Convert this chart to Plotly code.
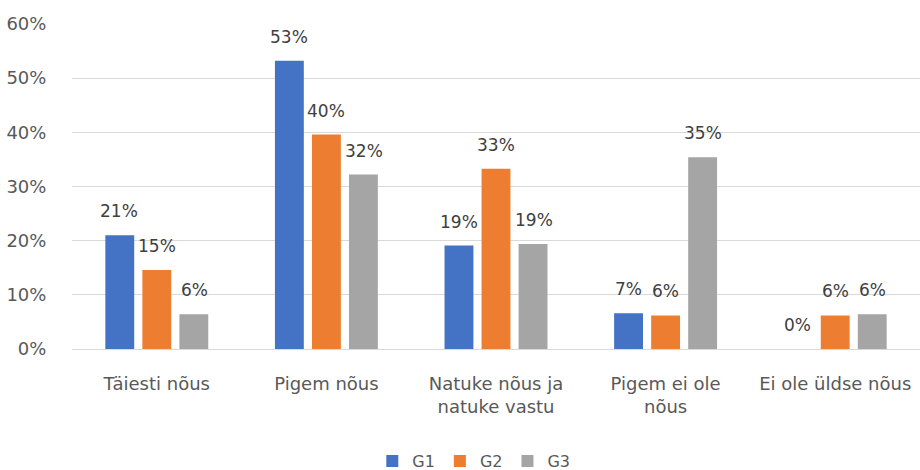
import plotly.graph_objects as go

categories = ["Täiesti nõus", "Pigem nõus", "Natuke nõus ja<br>natuke vastu", "Pigem ei ole<br>nõus", "Ei ole üldse nõus"]
series_names = ["G1", "G2", "G3"]
g1 = [0.21, 0.532, 0.191, 0.066, 0.0]
g2 = [0.146, 0.396, 0.333, 0.062, 0.062]
g3 = [0.064, 0.322, 0.194, 0.354, 0.064]
colors = ["#4472C4", "#ED7D31", "#A5A5A5"]
y_ticks = [0, 0.1, 0.2, 0.3, 0.4, 0.5, 0.6]
y_tick_labels = ["0%", "10%", "20%", "30%", "40%", "50%", "60%"]

FONT = "DejaVu Sans"
all_series = [g1, g2, g3]

fig = go.Figure()
for name, vals, col in zip(series_names, all_series, colors):
    fig.add_trace(go.Bar(
        x=categories, y=vals, name=name,
        marker=dict(color=col, line=dict(width=0)),
        hoverinfo="skip",
    ))

offsets = [-37.5, 0, 37.5]
for vals, off in zip(all_series, offsets):
    for cat, v in zip(categories, vals):
        fig.add_annotation(
            x=cat, y=v, text=f"{round(v*100):.0f}%",
            xshift=off, yshift=24, yanchor="middle", xanchor="center",
            showarrow=False,
            font=dict(family=FONT, size=17, color="#404040"),
        )

fig.update_layout(
    width=920, height=470,
    margin=dict(l=72, r=0, t=24, b=121),
    paper_bgcolor="white", plot_bgcolor="white",
    barmode="group", bargap=0.345, bargroupgap=0.22,
    font=dict(family=FONT, size=18, color="#595959"),
    showlegend=True,
    legend=dict(
        orientation="h", x=0.515, xanchor="center", xref="container",
        y=0.019, yanchor="middle", yref="container",
        font=dict(family=FONT, size=16, color="#595959"),
        itemwidth=30, tracegroupgap=0,
    ),
    xaxis=dict(
        showgrid=False, showline=False, zeroline=False, automargin=False,
        ticks="outside", ticklen=18, tickcolor="rgba(0,0,0,0)",
        tickfont=dict(family=FONT, size=18, color="#595959"),
    ),
    yaxis=dict(
        range=[0, 0.6], tickvals=y_ticks, ticktext=y_tick_labels,
        automargin=False,
        showgrid=True, gridcolor="#D9D9D9", gridwidth=1,
        zeroline=True, zerolinecolor="#D9D9D9", zerolinewidth=1,
        showline=False,
        ticks="outside", ticklen=21, tickcolor="rgba(0,0,0,0)",
        tickfont=dict(family=FONT, size=18, color="#595959"),
    ),
)

fig.write_html(
    "out.html",
    config={"displayModeBar": False},
    post_script="document.body.style.margin='0';document.body.style.overflow='hidden';",
)
